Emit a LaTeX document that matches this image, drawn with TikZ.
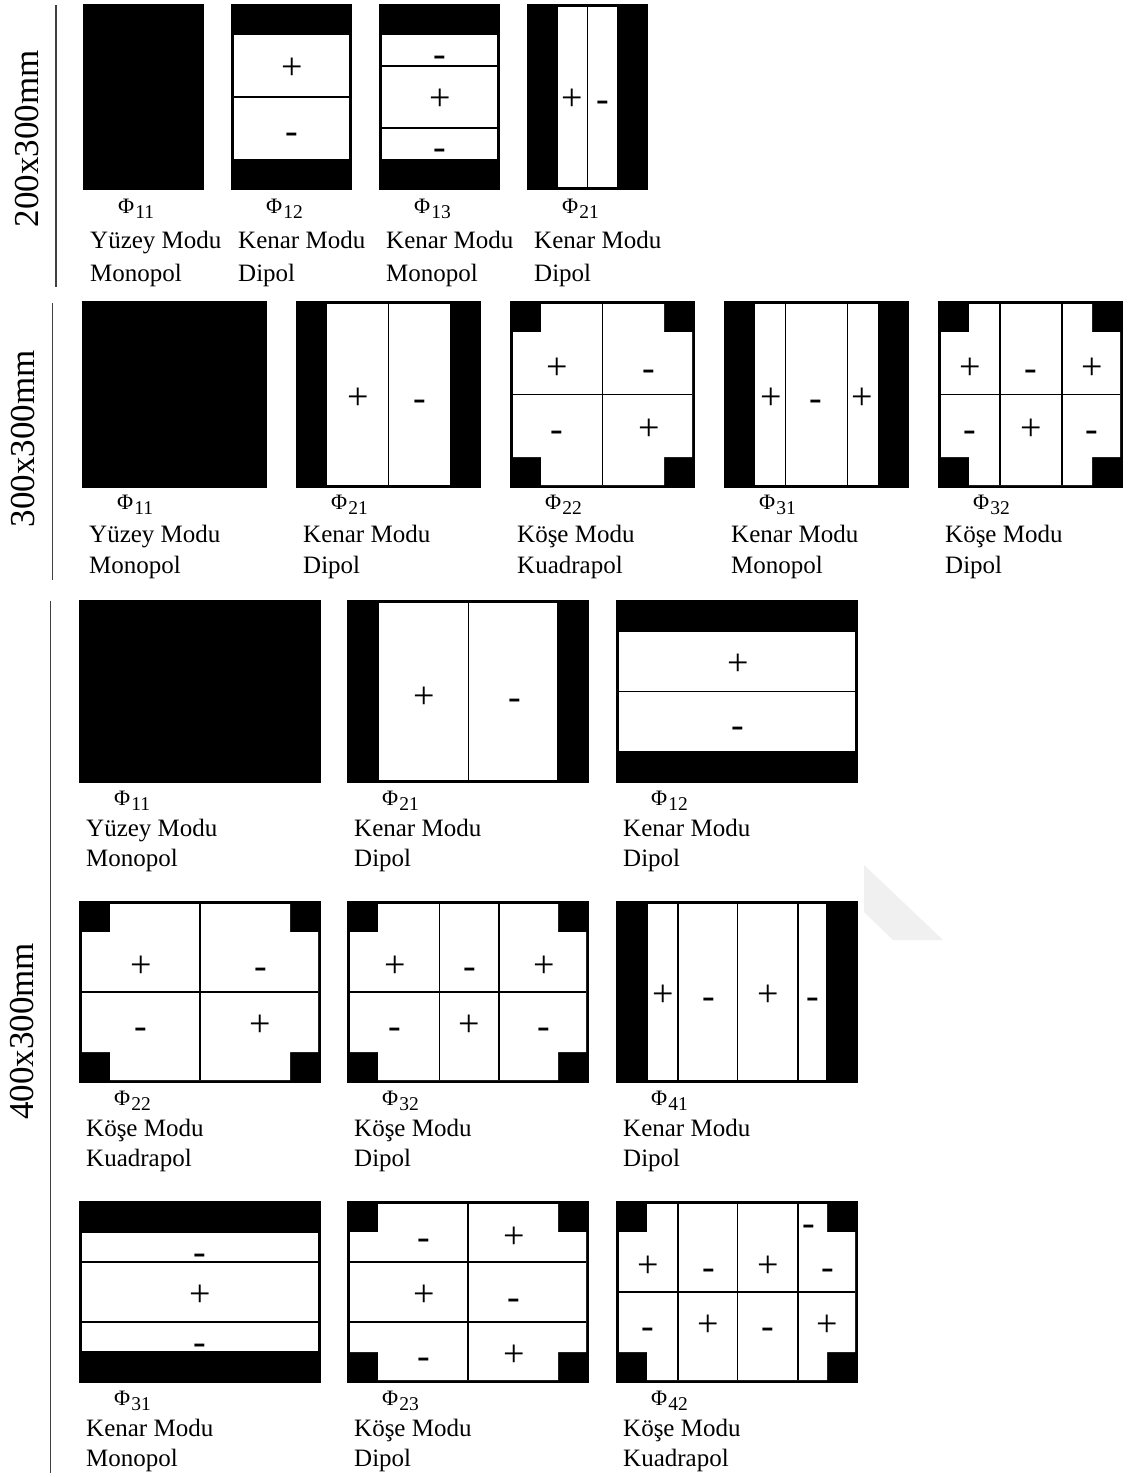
\documentclass[tikz,border=0pt]{standalone}
\usepackage{fontspec}
\setmainfont{Liberation Serif}
\newcounter{sgc}
\newcommand\BoxBlack[4]{\fill[black] (#1,#2) rectangle ++(#3,#4);}
\newcommand\BoxH[5]{\BoxBlack{#1}{#2}{#3}{#4}\fill[white] (#1+3,#2+#5) rectangle (#1+#3-3,#2+#4-#5);}
\newcommand\BoxV[5]{\BoxBlack{#1}{#2}{#3}{#4}\fill[white] (#1+#5,#2+3) rectangle (#1+#3-#5,#2+#4-3);}
\newcommand\BoxC[5]{\BoxBlack{#1}{#2}{#3}{#4}\fill[white] (#1+#5,#2+3) -- (#1+#3-#5,#2+3) -- (#1+#3-#5,#2+#5) -- (#1+#3-3,#2+#5) -- (#1+#3-3,#2+#4-#5) -- (#1+#3-#5,#2+#4-#5) -- (#1+#3-#5,#2+#4-3) -- (#1+#5,#2+#4-3) -- (#1+#5,#2+#4-#5) -- (#1+3,#2+#4-#5) -- (#1+3,#2+#5) -- (#1+#5,#2+#5) -- cycle;}
\newcommand\DivV[3]{\draw[divline] (#1,#2+3) -- (#1,#2+#3-3);}
\newcommand\DivH[3]{\draw[divline] (#2+3,#1) -- (#2+#3-3,#1);}
\newcommand\SPlus[2]{\stepcounter{sgc}\edef\sgname{sg\arabic{sgc}}\node[sgn] (\sgname) at (#1,#2+13) {+};}
\newcommand\SMinus[2]{\stepcounter{sgc}\edef\sgname{sg\arabic{sgc}}\node[sgn] (\sgname) at (#1,#2+12) {-};}
\newcommand\Lbl[8]{%
  \node[philab] (#1p) at (#2+35,#3) {Φ\kern1pt\raisebox{-5pt}{\fontsize{19.5}{19.5}\selectfont #6}};
  \node[lab] (#1a) at (#2+7,#4) {#7};
  \node[lab] (#1b) at (#2+7,#5) {#8};}
\tikzset{
  lab/.style={anchor=base west, inner sep=0pt, font=\fontsize{25}{25}\selectfont},
  philab/.style={anchor=base west, inner sep=0pt, font=\fontsize{22}{22}\selectfont},
  sgn/.style={anchor=base, inner sep=0pt, font=\fontsize{38}{38}\selectfont},
  dimlab/.style={rotate=90, inner sep=0pt, font=\fontsize{35}{35}\selectfont},
  divline/.style={line width=1.3pt, black},
  sepline/.style={line width=1.5pt, black!75},
}
\begin{document}
\begin{tikzpicture}[x=1pt,y=-1pt]
\useasboundingbox (0,0) rectangle (1128,1477);
\fill[white] (0,0) rectangle (1128,1477);
% faint watermark
\fill[black!6] (864,865) -- (864,912) -- (893,940) -- (943,940) -- cycle;

% separators and dimension labels
\draw[sepline] (56,5) -- (56,287);
\draw[sepline] (52.7,303) -- (52.7,580);
\draw[sepline] (50.5,601) -- (50.5,1473);
\node[dimlab] (d1) at (27,139) {200x300mm};
\node[dimlab] (d2) at (23.5,439) {300x300mm};
\node[dimlab] (d3) at (22.5,1031.5) {400x300mm};

% ---------- Row 1: 200x300 ----------
\BoxBlack{83}{4}{121}{186}
\BoxH{231}{4}{121}{186}{31}
\DivH{97}{231}{121}
\SPlus{292}{67} \SMinus{292}{131}
\BoxH{379}{4}{121}{186}{31}
\DivH{66}{379}{121} \DivH{128}{379}{121}
\SMinus{440}{55} \SPlus{440}{98} \SMinus{440}{147}
\BoxV{527}{4}{121}{186}{31}
\DivV{587.5}{4}{186}
\SPlus{572}{98} \SMinus{603}{100}
\Lbl{a1}{83}{213}{248}{281}{11}{Yüzey Modu}{Monopol}
\Lbl{a2}{231}{213}{248}{281}{12}{Kenar Modu}{Dipol}
\Lbl{a3}{379}{213}{248}{281}{13}{Kenar Modu}{Monopol}
\Lbl{a4}{527}{213}{248}{281}{21}{Kenar Modu}{Dipol}

% ---------- Row 2: 300x300 ----------
\BoxBlack{82}{301}{185}{187}
\BoxV{296}{301}{185}{187}{31}
\DivV{388.5}{301}{187}
\SPlus{358}{396} \SMinus{420}{398}
\BoxC{510}{301}{185}{187}{31}
\DivV{602.5}{301}{187} \DivH{394.5}{510}{185}
\SPlus{557}{366} \SMinus{649}{368} \SMinus{557}{429} \SPlus{649}{427}
\BoxV{724}{301}{185}{187}{31}
\DivV{785.7}{301}{187} \DivV{847.3}{301}{187}
\SPlus{771.5}{396} \SMinus{816}{398} \SPlus{862}{396}
\BoxC{938}{301}{185}{187}{31}
\DivV{1000}{301}{187} \DivV{1062}{301}{187} \DivH{394.5}{938}{185}
\SPlus{970}{366} \SMinus{1031}{368} \SPlus{1092}{366}
\SMinus{970}{429} \SPlus{1031}{427} \SMinus{1092}{429}
\Lbl{b1}{82}{509}{542}{573}{11}{Yüzey Modu}{Monopol}
\Lbl{b2}{296}{509}{542}{573}{21}{Kenar Modu}{Dipol}
\Lbl{b3}{510}{509}{542}{573}{22}{Köşe Modu}{Kuadrapol}
\Lbl{b4}{724}{509}{542}{573}{31}{Kenar Modu}{Monopol}
\Lbl{b5}{938}{509}{542}{573}{32}{Köşe Modu}{Dipol}

% ---------- Row 3: 400x300 ----------
% A
\BoxBlack{79}{600}{242}{183}
\BoxV{347}{600}{242}{183}{32}
\DivV{468.5}{600}{183}
\SPlus{424}{695} \SMinus{515}{697}
\BoxH{616}{600}{242}{183}{32}
\DivH{691.5}{616}{242}
\SPlus{738}{662} \SMinus{738}{725}
\Lbl{c1}{79}{805}{836}{866}{11}{Yüzey Modu}{Monopol}
\Lbl{c2}{347}{805}{836}{866}{21}{Kenar Modu}{Dipol}
\Lbl{c3}{616}{805}{836}{866}{12}{Kenar Modu}{Dipol}
% B
\BoxC{79}{901}{242}{182}{31}
\DivV{200}{901}{182} \DivH{992}{79}{242}
\SPlus{141}{964} \SMinus{261}{966} \SMinus{141}{1026} \SPlus{260}{1023}
\BoxC{347}{901}{242}{182}{31}
\DivV{439.5}{901}{182} \DivV{499}{901}{182} \DivH{992}{347}{242}
\SPlus{395}{964} \SMinus{470}{966} \SPlus{544}{964}
\SMinus{395}{1026} \SPlus{469}{1023} \SMinus{544}{1026}
\BoxV{616}{901}{242}{182}{32}
\DivV{678}{901}{182} \DivV{737.5}{901}{182} \DivV{798}{901}{182}
\SPlus{663}{993} \SMinus{709}{996} \SPlus{768}{993} \SMinus{813}{996}
\Lbl{e1}{79}{1105}{1136}{1166}{22}{Köşe Modu}{Kuadrapol}
\Lbl{e2}{347}{1105}{1136}{1166}{32}{Köşe Modu}{Dipol}
\Lbl{e3}{616}{1105}{1136}{1166}{41}{Kenar Modu}{Dipol}
% C
\BoxH{79}{1201}{242}{182}{32}
\DivH{1262}{79}{242} \DivH{1322}{79}{242}
\SMinus{200}{1252} \SPlus{200}{1293} \SMinus{200}{1342}
\BoxC{347}{1201}{242}{182}{31}
\DivV{468}{1201}{182} \DivH{1262}{347}{242} \DivH{1322}{347}{242}
\SMinus{424}{1237} \SPlus{514}{1235}
\SPlus{424}{1293} \SMinus{514}{1297}
\SMinus{424}{1356} \SPlus{514}{1353}
\BoxC{616}{1201}{242}{182}{31}
\DivV{678}{1201}{182} \DivV{737.5}{1201}{182} \DivV{798}{1201}{182} \DivH{1292}{616}{242}
\SMinus{809}{1223}
\SPlus{648}{1264} \SMinus{709}{1267} \SPlus{768}{1264} \SMinus{828}{1267}
\SMinus{648}{1326} \SPlus{708}{1323} \SMinus{768}{1326} \SPlus{827}{1323}
\Lbl{f1}{79}{1405}{1436}{1466}{31}{Kenar Modu}{Monopol}
\Lbl{f2}{347}{1405}{1436}{1466}{23}{Köşe Modu}{Dipol}
\Lbl{f3}{616}{1405}{1436}{1466}{42}{Köşe Modu}{Kuadrapol}
\end{tikzpicture}
\end{document}
